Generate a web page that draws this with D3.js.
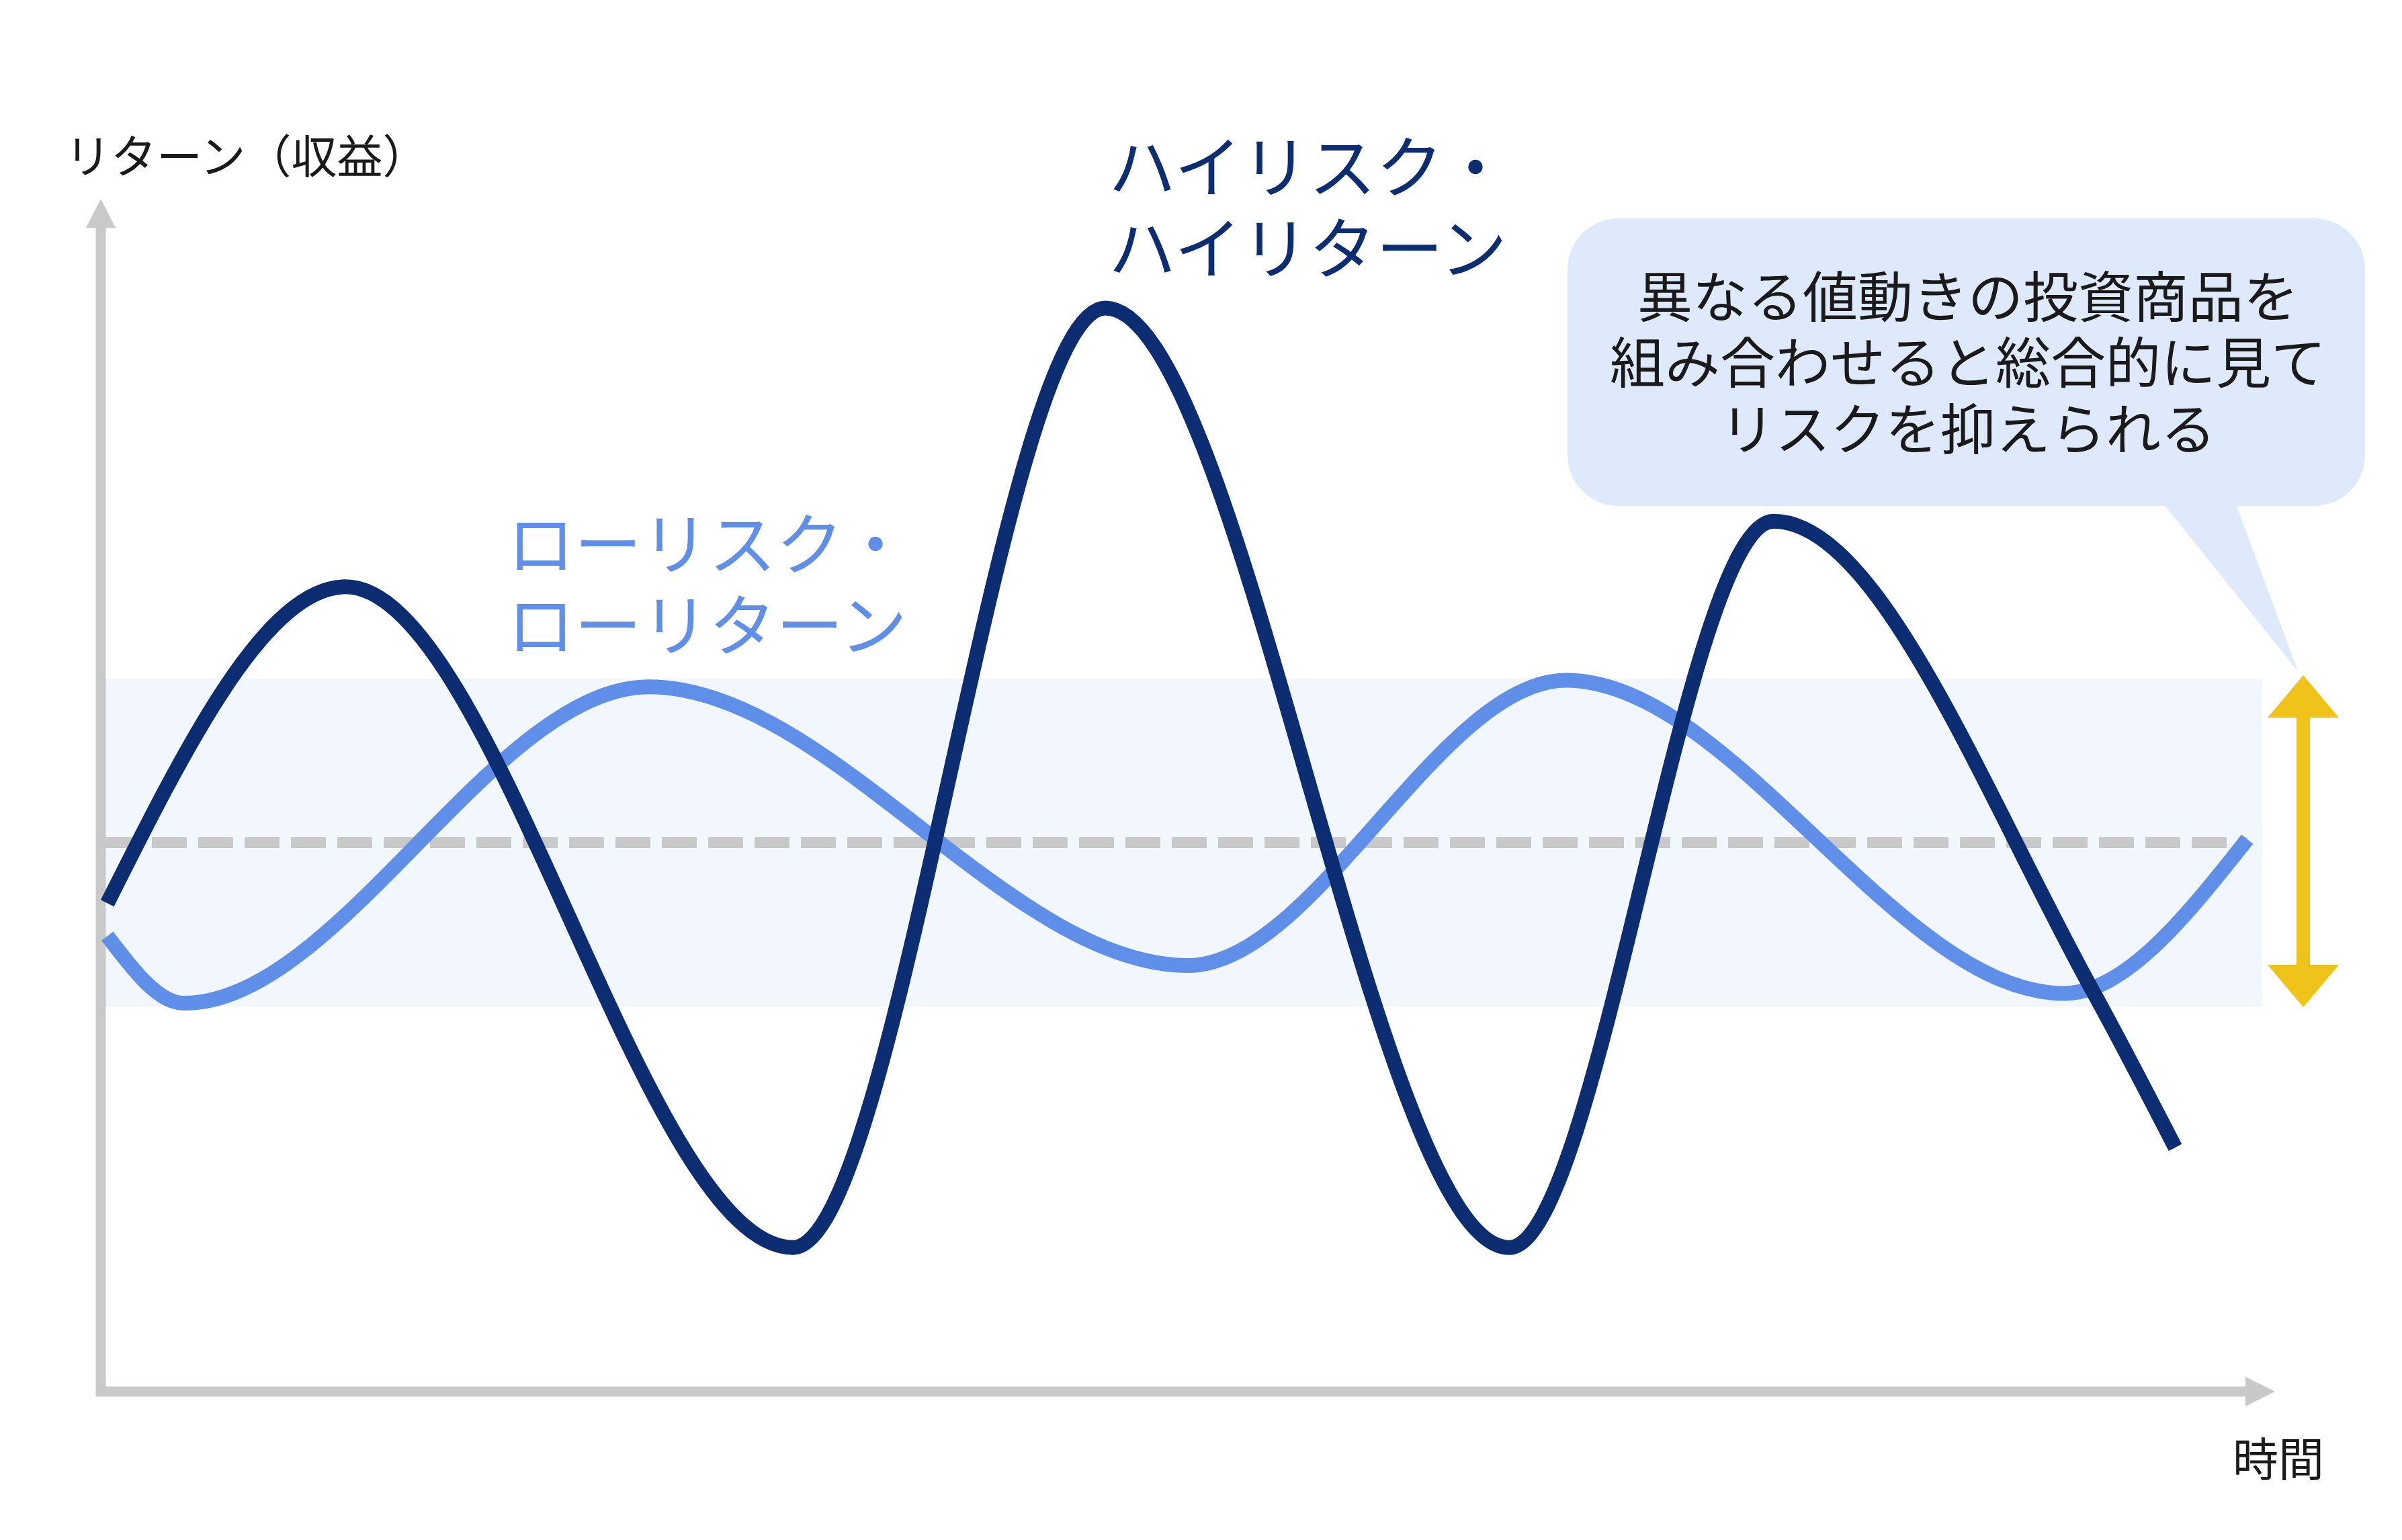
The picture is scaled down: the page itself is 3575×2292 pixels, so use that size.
<!DOCTYPE html>
<html lang="ja">
<head>
<meta charset="utf-8">
<script src="https://cdn.jsdelivr.net/npm/d3@7"></script>
<style>
    body { margin: 0; background: #fff; }
    svg { display: block; font-family: "Noto Sans CJK JP", "Noto Sans", sans-serif; }
</style>
</head>
<body>
<div id="chart"></div>
<script>
// time (0-100) and return values (turning points of each line)
const highTime = [0.3, 11.2, 31.7, 46.0, 64.5, 76.6, 91.2, 95.0];
const highReturn = [-3.7, 15.6, -24.7, 32.6, -24.7, 19.6, -9.0, -18.6];

const lowTime = [0.3, 3.8, 25.1, 49.8, 67.1, 89.9, 98.3];
const lowReturn = [-5.7, -9.8, 9.5, -7.5, 9.9, -9.2, 0.2];

const bandRange = [-10, 10];
const averageReturn = 0;

const highLabel = ["ハイリスク・", "ハイリターン"];
const lowLabel = ["ローリスク・", "ローリターン"];
const noteLines = ["異なる値動きの投資商品を", "組み合わせると総合的に見て", "リスクを抑えられる"];
const yTitle = "リターン（収益）";
const xTitle = "時間";

const width = 3575, height = 2292;
const navy = "#0d2d73", sky = "#608fea", axisGray = "#c9c9c9";

const svg = d3.select("#chart").append("svg")
    .attr("width", width)
    .attr("height", height);

const x = d3.scaleLinear().domain([0, 100]).range([150, 3400]);
const y = d3.scaleLinear().domain([-10, 10]).range([1498, 1010]);

// low-risk band
svg.append("rect")
    .attr("x", 157)
    .attr("y", y(bandRange[1]))
    .attr("width", 3367 - 157)
    .attr("height", y(bandRange[0]) - y(bandRange[1]))
    .attr("fill", "#f2f7fe");

// average line
svg.append("line")
    .attr("x1", 157)
    .attr("x2", x(98.3))
    .attr("y1", y(averageReturn))
    .attr("y2", y(averageReturn))
    .attr("stroke", axisGray)
    .attr("stroke-width", 16)
    .attr("stroke-dasharray", "52 17");

// axes
svg.append("line")
    .attr("x1", 150).attr("x2", 150)
    .attr("y1", 2078).attr("y2", 335)
    .attr("stroke", axisGray).attr("stroke-width", 15);
svg.append("path")
    .attr("d", "M128,339 L150,296 L172,339 Z")
    .attr("fill", axisGray);
svg.append("line")
    .attr("x1", 143).attr("x2", 3346)
    .attr("y1", 2071).attr("y2", 2071)
    .attr("stroke", axisGray).attr("stroke-width", 15);
svg.append("path")
    .attr("d", "M3342,2049 L3386,2071 L3342,2093 Z")
    .attr("fill", axisGray);

const line = d3.line()
    .x(d => x(d[0]))
    .y(d => y(d[1]))
    .curve(d3.curveMonotoneX);

svg.append("path")
    .datum(d3.zip(lowTime, lowReturn))
    .attr("d", line)
    .attr("fill", "none")
    .attr("stroke", sky)
    .attr("stroke-width", 22);

svg.append("path")
    .datum(d3.zip(highTime, highReturn))
    .attr("d", line)
    .attr("fill", "none")
    .attr("stroke", navy)
    .attr("stroke-width", 22);

// callout
svg.append("rect")
    .attr("x", 2333).attr("y", 325)
    .attr("width", 3520 - 2333).attr("height", 753 - 325)
    .attr("rx", 76)
    .attr("fill", "#dfe9fc");
svg.append("path")
    .attr("d", "M3212,740 L3324,740 L3420,999 Z")
    .attr("fill", "#dfe9fc");

svg.append("g")
    .selectAll("text")
    .data(noteLines)
    .join("text")
    .attr("x", 2929)
    .attr("y", (d, i) => 436 + i * 98.5)
    .attr("text-anchor", "middle")
    .attr("dominant-baseline", "central")
    .attr("font-size", 82)
    .attr("fill", "#1a1a1a")
    .text(d => d);

// range arrow
const arrowX = 3428;
svg.append("rect")
    .attr("x", arrowX - 10).attr("y", 1060)
    .attr("width", 20).attr("height", 1444 - 1060)
    .attr("fill", "#f0c31a");
svg.append("path")
    .attr("d", `M${arrowX - 53},1068 L${arrowX},1005 L${arrowX + 53},1068 Z`)
    .attr("fill", "#f0c31a");
svg.append("path")
    .attr("d", `M${arrowX - 53},1436 L${arrowX},1499 L${arrowX + 53},1436 Z`)
    .attr("fill", "#f0c31a");

// labels
svg.append("g")
    .selectAll("text")
    .data(highLabel)
    .join("text")
    .attr("x", 1650)
    .attr("y", (d, i) => 242 + i * 121)
    .attr("dominant-baseline", "central")
    .attr("font-size", 100)
    .attr("fill", navy)
    .text(d => d);

svg.append("g")
    .selectAll("text")
    .data(lowLabel)
    .join("text")
    .attr("x", 755)
    .attr("y", (d, i) => 803 + i * 121)
    .attr("dominant-baseline", "central")
    .attr("font-size", 100)
    .attr("fill", sky)
    .text(d => d);

svg.append("text")
    .attr("x", 97)
    .attr("y", 228)
    .attr("dominant-baseline", "central")
    .attr("font-size", 68)
    .attr("fill", "#1a1a1a")
    .text(yTitle);

svg.append("text")
    .attr("x", 3391)
    .attr("y", 2167)
    .attr("text-anchor", "middle")
    .attr("dominant-baseline", "central")
    .attr("font-size", 68)
    .attr("fill", "#1a1a1a")
    .text(xTitle);
</script>
</body>
</html>
